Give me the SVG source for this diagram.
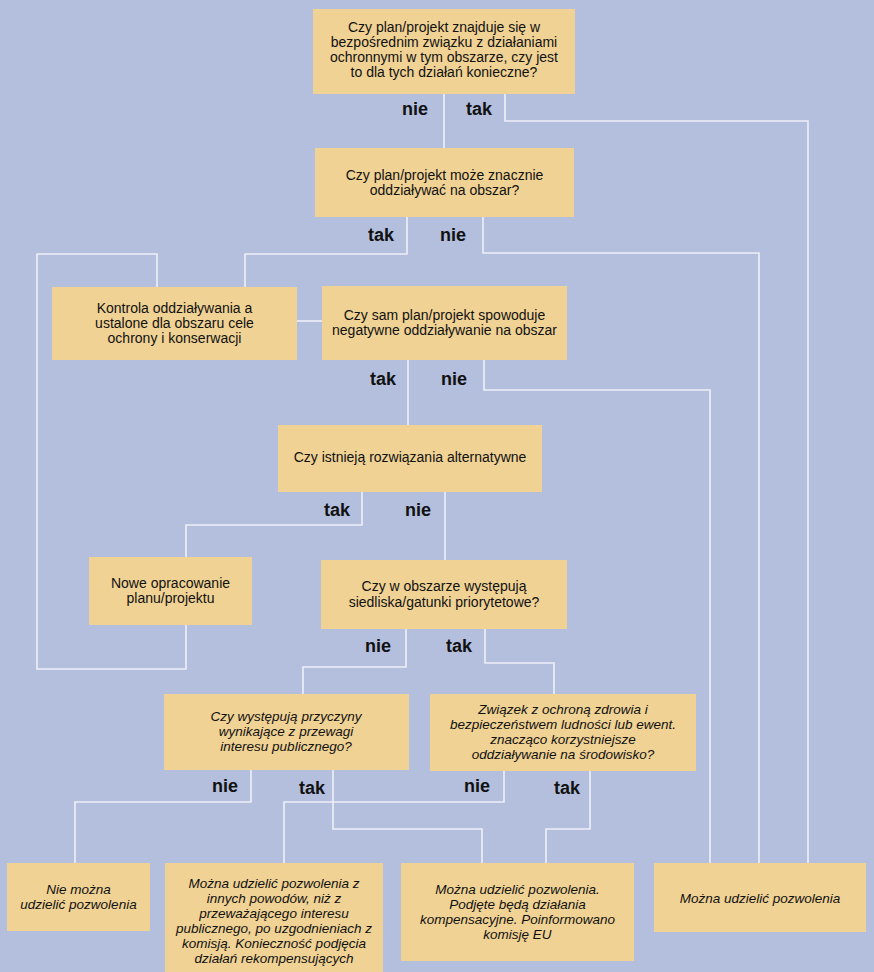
<svg xmlns="http://www.w3.org/2000/svg" width="874" height="972" viewBox="0 0 874 972">
<style>
.bg{fill:#b3bfdc}
.box{fill:#f0d295}
.t{font-family:"Liberation Sans",Arial,sans-serif;font-size:14px;fill:#111;text-anchor:middle}
.i{font-style:italic;font-size:13.5px}
.lbl{font-family:"Liberation Sans",Arial,sans-serif;font-size:18px;font-weight:bold;fill:#111;text-anchor:middle}
.c{fill:none;stroke:#eef0f8;stroke-width:1.6}
</style>
<rect class="bg" x="0" y="0" width="874" height="972"/>
<g id="connectors">
<polyline class="c" points="444,94 444,148"/>
<polyline class="c" points="505,94 505,121 808,121 808,863"/>
<polyline class="c" points="407,217 407,254 245,254 245,287"/>
<polyline class="c" points="483,217 483,253 759,253 759,863"/>
<polyline class="c" points="157,287 157,254 37,254 37,669 186,669 186,625"/>
<polyline class="c" points="297,321 322,321"/>
<polyline class="c" points="408,360 408,425"/>
<polyline class="c" points="484,360 484,390 710,390 710,863"/>
<polyline class="c" points="362,492 362,525 186,525 186,557"/>
<polyline class="c" points="445,492 445,560"/>
<polyline class="c" points="406,629 406,667 303,667 303,694"/>
<polyline class="c" points="485,629 485,663 554,663 554,694"/>
<polyline class="c" points="251,770 251,802 75,802 75,863"/>
<polyline class="c" points="333,770 333,829 482,829 482,863"/>
<polyline class="c" points="504,771 504,802 284,802 284,863"/>
<polyline class="c" points="590,771 590,829 546,829 546,863"/>
</g>
<g id="labels">
<text class="lbl" x="415" y="115">nie</text>
<text class="lbl" x="479" y="115">tak</text>
<text class="lbl" x="381" y="241">tak</text>
<text class="lbl" x="453" y="241">nie</text>
<text class="lbl" x="383" y="385">tak</text>
<text class="lbl" x="454" y="385">nie</text>
<text class="lbl" x="337" y="516">tak</text>
<text class="lbl" x="418" y="516">nie</text>
<text class="lbl" x="378" y="652">nie</text>
<text class="lbl" x="459" y="652">tak</text>
<text class="lbl" x="225" y="792">nie</text>
<text class="lbl" x="312" y="794">tak</text>
<text class="lbl" x="477" y="792">nie</text>
<text class="lbl" x="567" y="794">tak</text>
</g>
<g id="n1">
<rect class="box" x="313" y="9" width="262" height="85"/>
<text class="t" x="444" y="32">Czy plan/projekt znajduje się w</text>
<text class="t" x="444" y="47">bezpośrednim związku z działaniami</text>
<text class="t" x="444" y="62">ochronnymi w tym obszarze, czy jest</text>
<text class="t" x="444" y="77">to dla tych działań konieczne?</text>
</g>
<g id="n2">
<rect class="box" x="315" y="148" width="259" height="69"/>
<text class="t" x="444.5" y="180">Czy plan/projekt może znacznie</text>
<text class="t" x="444.5" y="195">oddziaływać na obszar?</text>
</g>
<g id="n3">
<rect class="box" x="52" y="287" width="245" height="73"/>
<text class="t" x="174.5" y="313">Kontrola oddziaływania a</text>
<text class="t" x="174.5" y="328">ustalone dla obszaru cele</text>
<text class="t" x="174.5" y="343">ochrony i konserwacji</text>
</g>
<g id="n4">
<rect class="box" x="322" y="286" width="245" height="74"/>
<text class="t" x="444.5" y="320">Czy sam plan/projekt spowoduje</text>
<text class="t" x="444.5" y="335">negatywne oddziaływanie na obszar</text>
</g>
<g id="n5">
<rect class="box" x="278" y="425" width="264" height="67"/>
<text class="t" x="410" y="462">Czy istnieją rozwiązania alternatywne</text>
</g>
<g id="n6">
<rect class="box" x="89" y="557" width="163" height="68"/>
<text class="t" x="170.5" y="588">Nowe opracowanie</text>
<text class="t" x="170.5" y="603">planu/projektu</text>
</g>
<g id="n7">
<rect class="box" x="321" y="560" width="246" height="69"/>
<text class="t" x="444" y="591">Czy w obszarze występują</text>
<text class="t" x="444" y="607">siedliska/gatunki priorytetowe?</text>
</g>
<g id="n8">
<rect class="box" x="164" y="694" width="245" height="76"/>
<text class="t i" x="286" y="721">Czy występują przyczyny</text>
<text class="t i" x="286" y="736">wynikające z przewagi</text>
<text class="t i" x="286" y="751">interesu publicznego?</text>
</g>
<g id="n9">
<rect class="box" x="430" y="694" width="266" height="77"/>
<text class="t i" x="563" y="714">Związek z ochroną zdrowia i</text>
<text class="t i" x="563" y="729">bezpieczeństwem ludności lub ewent.</text>
<text class="t i" x="563" y="744">znacząco korzystniejsze</text>
<text class="t i" x="563" y="759">oddziaływanie na środowisko?</text>
</g>
<g id="n10">
<rect class="box" x="7" y="863" width="143" height="68"/>
<text class="t i" x="78.5" y="894">Nie można</text>
<text class="t i" x="78.5" y="909">udzielić pozwolenia</text>
</g>
<g id="n11">
<rect class="box" x="165" y="863" width="218" height="109"/>
<text class="t i" x="274" y="888">Można udzielić pozwolenia z</text>
<text class="t i" x="274" y="903">innych powodów, niż z</text>
<text class="t i" x="274" y="918">przeważającego interesu</text>
<text class="t i" x="274" y="933">publicznego, po uzgodnieniach z</text>
<text class="t i" x="274" y="948">komisją. Konieczność podjęcia</text>
<text class="t i" x="274" y="963">działań rekompensujących</text>
</g>
<g id="n12">
<rect class="box" x="401" y="863" width="233" height="98"/>
<text class="t i" x="517.5" y="894">Można udzielić pozwolenia.</text>
<text class="t i" x="517.5" y="909">Podjęte będą działania</text>
<text class="t i" x="517.5" y="924">kompensacyjne. Poinformowano</text>
<text class="t i" x="517.5" y="939">komisję EU</text>
</g>
<g id="n13">
<rect class="box" x="654" y="863" width="212" height="69"/>
<text class="t i" x="760" y="903">Można udzielić pozwolenia</text>
</g>
</svg>
